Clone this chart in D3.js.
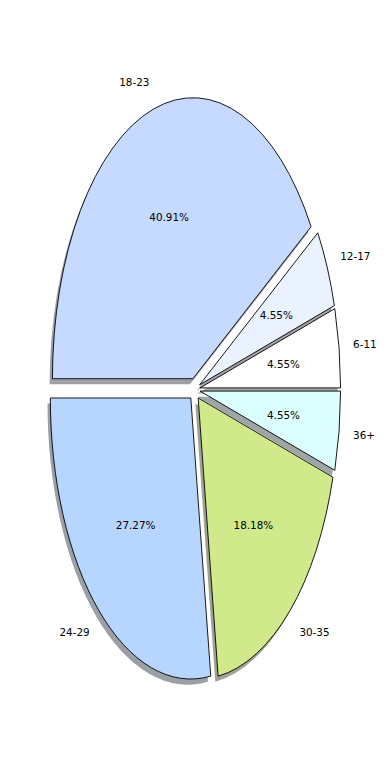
<!DOCTYPE html>
<html>
<head>
<meta charset="utf-8">
<script src="https://cdn.jsdelivr.net/npm/d3@7"></script>
<style>
  html, body { margin: 0; padding: 0; background: #fff; }
  svg { display: block; }
</style>
</head>
<body>
<div id="chart"></div>
<script>
// age groups, in the order the wedges run (counter-clockwise from 3 o'clock)
const labels = ['6-11', '12-17', '18-23', '24-29', '30-35', '36+'];
const counts = [1, 1, 9, 6, 4, 1];
const colors = ['#ffffff', '#eaf1ff', '#c6d9fe', '#b7d6ff', '#d0ea8b', '#dbffff'];
const explode = [0.04, 0.04, 0.04, 0.04, 0.04, 0.04];

const width = 390;
const height = 780;
const center = {x: 194.5, y: 389.5};
const rx = 140.5;
const ry = 281;

const svg = d3.select('#chart')
  .append('svg')
  .attr('width', width)
  .attr('height', height)
  .attr('font-family', 'DejaVu Sans')
  .attr('font-size', 10.4);

// data units -> pixels (axes are not equal, so the pie is stretched)
const x = d3.scaleLinear().domain([-1, 1]).range([center.x - rx, center.x + rx]);
const y = d3.scaleLinear().domain([-1, 1]).range([center.y + ry, center.y - ry]);

const total = d3.sum(counts);
const pie = d3.pie().sort(null)
  .startAngle(Math.PI / 2)
  .endAngle(Math.PI / 2 - 2 * Math.PI);

const arcs = pie(counts).map((d, i) => {
  const mid = (d.startAngle + d.endAngle) / 2;
  return {
    ...d,
    i,
    ux: Math.sin(mid),
    uy: Math.cos(mid),
    ex: Math.sin(mid) * explode[i],
    ey: Math.cos(mid) * explode[i]
  };
});

const arc = d3.arc().innerRadius(0).outerRadius(1);
const sx = (x(1) - x(0));
const sy = (y(0) - y(1));

const shadowColor = c => {
  const r = d3.rgb(c);
  return d3.rgb(r.r * 0.3, r.g * 0.3, r.b * 0.3);
};

// shadows go under every wedge
svg.append('g')
  .selectAll('path')
  .data(arcs)
  .join('path')
  .attr('d', d => arc(d))
  .attr('transform', d => `translate(${x(d.ex - 0.02)},${y(d.ey - 0.02)}) scale(${sx},${sy})`)
  .attr('fill', d => shadowColor(colors[d.i]))
  .attr('fill-opacity', 0.5);

svg.append('g')
  .selectAll('path')
  .data(arcs)
  .join('path')
  .attr('d', d => arc(d))
  .attr('transform', d => `translate(${x(d.ex)},${y(d.ey)}) scale(${sx},${sy})`)
  .attr('fill', d => colors[d.i])
  .attr('stroke', '#000')
  .attr('stroke-width', 0.9)
  .attr('stroke-linejoin', 'miter')
  .attr('vector-effect', 'non-scaling-stroke');

// outer labels
svg.append('g')
  .selectAll('text')
  .data(arcs)
  .join('text')
  .attr('x', d => x(d.ex + 1.1 * d.ux))
  .attr('y', d => y(d.ey + 1.1 * d.uy))
  .attr('text-anchor', d => d.ux > 0 ? 'start' : 'end')
  .attr('dominant-baseline', 'central')
  .attr('fill', '#000')
  .text(d => labels[d.i]);

// percentages
svg.append('g')
  .selectAll('text')
  .data(arcs)
  .join('text')
  .attr('x', d => x(d.ex + 0.6 * d.ux))
  .attr('y', d => y(d.ey + 0.6 * d.uy))
  .attr('text-anchor', 'middle')
  .attr('dominant-baseline', 'central')
  .attr('fill', '#000')
  .text(d => (d.value / total * 100).toFixed(2) + '%');
</script>
</body>
</html>
